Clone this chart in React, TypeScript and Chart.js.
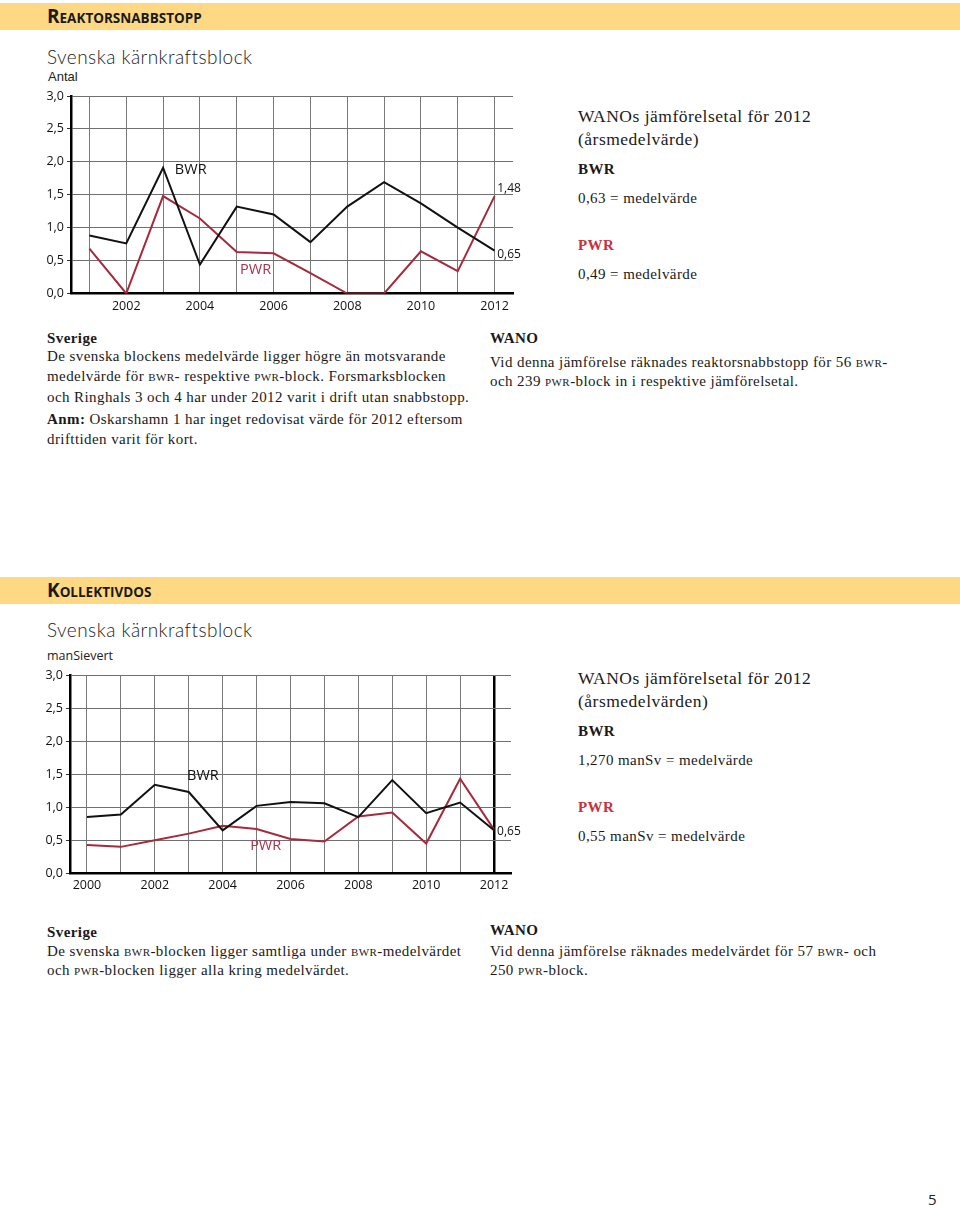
import React, { useEffect, useRef } from 'react';
import { Chart, registerables } from 'chart.js';

Chart.register(...registerables);

// ---- Data: Reaktorsnabbstopp (Antal) ----
const YEARS_1 = [2001, 2002, 2003, 2004, 2005, 2006, 2007, 2008, 2009, 2010, 2011, 2012];
const BWR_1 = [0.88, 0.76, 1.91, 0.44, 1.32, 1.2, 0.78, 1.32, 1.69, 1.37, 1.0, 0.65];
const PWR_1 = [0.68, 0.0, 1.48, 1.14, 0.63, 0.61, 0.31, 0.0, 0.0, 0.64, 0.34, 1.48];

// ---- Data: Kollektivdos (manSievert) ----
const YEARS_2 = [2000, 2001, 2002, 2003, 2004, 2005, 2006, 2007, 2008, 2009, 2010, 2011, 2012];
const BWR_2 = [0.85, 0.89, 1.34, 1.23, 0.65, 1.02, 1.08, 1.06, 0.85, 1.41, 0.91, 1.07, 0.65];
const PWR_2 = [0.43, 0.4, 0.5, 0.6, 0.72, 0.67, 0.52, 0.48, 0.86, 0.92, 0.45, 1.43, 0.66];

const Y_MIN = 0;
const Y_MAX = 3;
const Y_STEP = 0.25;

const LABELS_1 = [
  { text: 'BWR', x: 2003.32, y: 1.88, color: '#111', size: 14.5 },
  { text: 'PWR', x: 2005.09, y: 0.36, color: '#a8334a', size: 14.5 },
  { text: '1,48', x: 2012.07, y: 1.6, color: '#111', size: 12 },
  { text: '0,65', x: 2012.07, y: 0.585, color: '#111', size: 12 },
];
const LABELS_2 = [
  { text: 'BWR', x: 2002.95, y: 1.47, color: '#111', size: 14.5 },
  { text: 'PWR', x: 2004.81, y: 0.41, color: '#a8334a', size: 14.5 },
  { text: '0,65', x: 2012.09, y: 0.625, color: '#111', size: 12 },
];

const BWR_COLOR = '#111111';
const PWR_COLOR = '#a62a3c';
const SANS = '"Open Sans", "Noto Sans", sans-serif';
const SERIF = '"Liberation Serif", "DejaVu Serif", serif';
const BODY_LS = 0.42;

type Lbl = { text: string; x: number; y: number; color: string; size: number };

function LineChart(props: {
  years: number[];
  bwr: number[];
  pwr: number[];
  labels: Lbl[];
  xMin: number;
  xMax: number;
  left: number;
  top: number;
  width: number;
  height: number;
  padTop: number;
  padRight: number;
  yW: number;
  xH: number;
  thickYear?: number;
  minorTicks: boolean;
}) {
  const ref = useRef<HTMLCanvasElement>(null);
  useEffect(() => {
    const labelPlugin = {
      id: 'inlineLabels',
      afterDatasetsDraw(chart: any) {
        const ctx = chart.ctx;
        ctx.save();
        ctx.textBaseline = 'middle';
        ctx.textAlign = 'left';
        for (const l of props.labels) {
          ctx.font = `${l.size}px ${SANS}`;
          ctx.fillStyle = l.color;
          ctx.fillText(l.text, chart.scales.x.getPixelForValue(l.x), chart.scales.y.getPixelForValue(l.y));
        }
        ctx.restore();
      },
    };
    const isMajor = (v: number) => Math.round(v * 100) % 50 === 0;
    const chart = new Chart(ref.current as HTMLCanvasElement, {
      type: 'line',
      data: {
        datasets: [
          {
            label: 'BWR',
            data: props.years.map((x, i) => ({ x, y: props.bwr[i] })),
            borderColor: BWR_COLOR,
            borderWidth: 2,
            pointRadius: 0,
            tension: 0,
          },
          {
            label: 'PWR',
            data: props.years.map((x, i) => ({ x, y: props.pwr[i] })),
            borderColor: PWR_COLOR,
            borderWidth: 2,
            pointRadius: 0,
            tension: 0,
          },
        ],
      },
      options: {
        responsive: false,
        animation: false,
        devicePixelRatio: 1,
        layout: { padding: { top: props.padTop, right: props.padRight, bottom: 0, left: 0 } },
        plugins: { legend: { display: false }, tooltip: { enabled: false } },
        scales: {
          x: {
            type: 'linear',
            min: props.xMin,
            max: props.xMax,
            afterBuildTicks: (s: any) => {
              s.ticks = props.years.map((v) => ({ value: v }));
            },
            afterFit: (s: any) => {
              s.height = props.xH;
            },
            ticks: {
              autoSkip: false,
              maxRotation: 0,
              padding: 5,
              color: '#111',
              font: { family: SANS, size: 12.5 },
              callback: (v: any) => (Number(v) % 2 === 0 ? String(v) : ''),
            },
            grid: {
              drawTicks: false,
              color: (c: any) => (props.thickYear && c.tick && c.tick.value === props.thickYear ? '#000' : '#7a7a7a'),
              lineWidth: (c: any) => (props.thickYear && c.tick && c.tick.value === props.thickYear ? 2.5 : 1),
            },
            border: { color: '#000', width: 2.5 },
          },
          y: {
            min: Y_MIN,
            max: Y_MAX,
            afterFit: (s: any) => {
              s.width = props.yW;
            },
            ticks: {
              stepSize: Y_STEP,
              padding: 3,
              color: '#111',
              font: { family: SANS, size: 12.5 },
              callback: (v: any) => (isMajor(Number(v)) ? Number(v).toFixed(1).replace('.', ',') : ''),
            },
            grid: {
              tickLength: 4,
              color: (c: any) => (c.tick && isMajor(c.tick.value) ? '#707070' : '#9a9a9a'),
              tickColor: (c: any) =>
                c.tick && (isMajor(c.tick.value) || props.minorTicks) ? '#333' : 'rgba(0,0,0,0)',
            },
            border: { color: '#000', width: 2.5 },
          },
        },
      } as any,
      plugins: [labelPlugin],
    });
    return () => chart.destroy();
  }, []);
  return (
    <canvas
      ref={ref}
      width={props.width}
      height={props.height}
      style={{ position: 'absolute', left: props.left, top: props.top, width: props.width, height: props.height }}
    />
  );
}

function T(props: {
  x: number;
  y: number;
  size: number;
  family?: string;
  weight?: number | string;
  color?: string;
  ls?: number;
  children: React.ReactNode;
}) {
  return (
    <div
      style={{
        position: 'absolute',
        left: props.x,
        top: props.y - props.size * 0.5,
        fontSize: props.size,
        lineHeight: `${props.size}px`,
        fontFamily: props.family || SERIF,
        fontWeight: props.weight || 400,
        color: props.color || '#1a1a1a',
        letterSpacing: props.ls === undefined ? BODY_LS : props.ls,
        whiteSpace: 'nowrap',
      }}
    >
      {props.children}
    </div>
  );
}

const SC = (p: { children: React.ReactNode }) => <span style={{ fontVariant: 'small-caps' }}>{p.children}</span>;

function Band(props: { top: number; first: string; rest: string }) {
  return (
    <div style={{ position: 'absolute', left: 0, top: props.top, width: 960, height: 27, background: '#fed883' }}>
      <div
        style={{
          position: 'absolute',
          left: 47,
          top: 2,
          fontFamily: SANS,
          fontWeight: 700,
          color: '#1a1a1a',
          whiteSpace: 'nowrap',
          lineHeight: '22px',
          fontSize: 19,
          letterSpacing: 0,
        }}
      >
        {props.first}
        <span style={{ fontSize: 13.5 }}>{props.rest}</span>
      </div>
    </div>
  );
}

const TITLE_FONT = 'Lato, "Open Sans", sans-serif';

export default function App() {
  const red = '#c8313a';
  return (
    <div style={{ position: 'absolute', left: 0, top: 0, width: 960, height: 1205, background: '#fff', overflow: 'hidden' }}>
      <Band top={3} first="R" rest="EAKTORSNABBSTOPP" />
      <T x={47} y={56} size={19} family={TITLE_FONT} weight={300} color="#222" ls={0.45}>
        Svenska kärnkraftsblock
      </T>
      <T x={48} y={76} size={13} family='"Liberation Sans", Arial, sans-serif' color="#222" ls={0}>
        Antal
      </T>
      <LineChart
        years={YEARS_1}
        bwr={BWR_1}
        pwr={PWR_1}
        labels={LABELS_1}
        xMin={2000.5}
        xMax={2012.5}
        left={0}
        top={80}
        width={530}
        height={240}
        padTop={16}
        padRight={17}
        yW={71}
        xH={26.5}
        minorTicks={false}
      />
      <T x={578} y={117} size={17.5} ls={0.5}>WANOs jämförelsetal för 2012</T>
      <T x={578} y={140} size={17.5} ls={0.5}>(årsmedelvärde)</T>
      <T x={578} y={169} size={15} weight={700}>BWR</T>
      <T x={578} y={198} size={15}>0,63 = medelvärde</T>
      <T x={578} y={245} size={15} weight={700} color={red}>PWR</T>
      <T x={578} y={274} size={15}>0,49 = medelvärde</T>

      <T x={47} y={338} size={15} weight={700}>Sverige</T>
      <T x={47} y={356} size={15}>De svenska blockens medelvärde ligger högre än motsvarande</T>
      <T x={47} y={376} size={15}>
        medelvärde för <SC>bwr</SC>- respektive <SC>pwr</SC>-block. Forsmarksblocken
      </T>
      <T x={47} y={397} size={15}>och Ringhals 3 och 4 har under 2012 varit i drift utan snabbstopp.</T>
      <T x={47} y={419} size={15}>
        <b>Anm:</b> Oskarshamn 1 har inget redovisat värde för 2012 eftersom
      </T>
      <T x={47} y={439} size={15}>drifttiden varit för kort.</T>
      <T x={490} y={338} size={15} weight={700}>WANO</T>
      <T x={490} y={362} size={15}>
        Vid denna jämförelse räknades reaktorsnabbstopp för 56 <SC>bwr</SC>-
      </T>
      <T x={490} y={381} size={15}>
        och 239 <SC>pwr</SC>-block in i respektive jämförelsetal.
      </T>

      <Band top={577} first="K" rest="OLLEKTIVDOS" />
      <T x={47} y={629} size={19} family={TITLE_FONT} weight={300} color="#222" ls={0.45}>
        Svenska kärnkraftsblock
      </T>
      <T x={47} y={656} size={12.5} family={SANS} color="#222" ls={0}>
        manSievert
      </T>
      <LineChart
        years={YEARS_2}
        bwr={BWR_2}
        pwr={PWR_2}
        labels={LABELS_2}
        xMin={1999.5}
        xMax={2012.5}
        left={0}
        top={660}
        width={530}
        height={240}
        padTop={15}
        padRight={19}
        yW={70}
        xH={26.7}
        thickYear={2012}
        minorTicks={true}
      />
      <T x={578} y={679} size={17.5} ls={0.5}>WANOs jämförelsetal för 2012</T>
      <T x={578} y={702} size={17.5} ls={0.5}>(årsmedelvärden)</T>
      <T x={578} y={731} size={15} weight={700}>BWR</T>
      <T x={578} y={760} size={15}>1,270 manSv = medelvärde</T>
      <T x={578} y={807} size={15} weight={700} color={red}>PWR</T>
      <T x={578} y={836} size={15}>0,55 manSv = medelvärde</T>

      <T x={47} y={932} size={15} weight={700}>Sverige</T>
      <T x={47} y={951} size={15}>
        De svenska <SC>bwr</SC>-blocken ligger samtliga under <SC>bwr</SC>-medelvärdet
      </T>
      <T x={47} y={970} size={15}>
        och <SC>pwr</SC>-blocken ligger alla kring medelvärdet.
      </T>
      <T x={490} y={930} size={15} weight={700}>WANO</T>
      <T x={490} y={951} size={15}>
        Vid denna jämförelse räknades medelvärdet för 57 <SC>bwr</SC>- och
      </T>
      <T x={490} y={970} size={15}>
        250 <SC>pwr</SC>-block.
      </T>

      <T x={928} y={1199} size={15} family={SANS} color="#222" ls={0}>
        5
      </T>
    </div>
  );
}
